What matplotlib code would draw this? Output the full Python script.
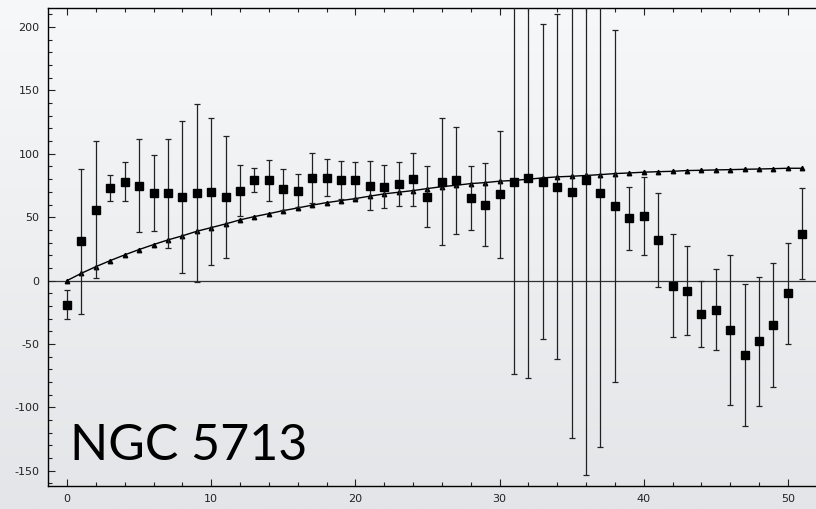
import numpy as np
import matplotlib
matplotlib.use("Agg")
import matplotlib.pyplot as plt
from matplotlib.ticker import MultipleLocator

plt.rcParams["axes.unicode_minus"] = False

# radius index
r = np.arange(52)

# observed velocities with error bars
vel = [-19, 31, 56, 73, 78, 75, 69, 69, 66, 69,
       70, 66, 71, 79, 79, 72, 71, 81, 81, 79,
       79, 75, 74, 76, 80, 66, 78, 79, 65, 60,
       68, 78, 81, 78, 74, 70, 79, 69, 59, 49,
       51, 32, -4, -8, -26, -23, -39, -59, -48, -35,
       -10, 37]
err = [11.5, 57, 54, 10, 15.6, 37, 30, 43, 60, 70,
       58, 48, 20, 9.5, 16, 16, 12.7, 20, 14.6, 15,
       14.6, 19, 17, 17.5, 21, 24, 50, 42, 25, 32.6,
       50, 152, 158, 124, 136, 194, 232, 200, 139, 25,
       30.6, 37, 40.8, 35, 26, 32, 59, 56, 51, 48.6,
       39.7, 36]

# model curve
model = [0, 5.8, 11, 15.8, 20.3, 24.5, 28.4, 32.1, 35.3, 38.9,
         41.8, 44.7, 47.9, 50.5, 52.8, 55.2, 57.3, 59.5, 61.5, 63.1,
         64.7, 66.6, 68.4, 69.7, 71, 72.6, 74.1, 75.2, 76.5, 77.3,
         78.4, 79, 80, 81, 81.8, 82.3, 82.9, 83.6, 84.4, 84.9,
         85.5, 85.9, 86.2, 86.8, 87, 87.3, 87.5, 87.8, 88, 88.3,
         88.6, 88.6]

fig = plt.figure(figsize=(8.16, 5.09), dpi=100)

# soft grey gradient background
bg = fig.add_axes([0, 0, 1, 1], zorder=-10)
grad = np.linspace(0, 1, 256).reshape(-1, 1)
bg.imshow(grad, aspect="auto", cmap=matplotlib.colors.LinearSegmentedColormap.from_list(
    "bg", ["#f7f8f9", "#e3e5e8"]), extent=[0, 1, 0, 1], origin="upper")
bg.axis("off")

ax = fig.add_axes([48 / 816, 23 / 509, 1 - 48 / 816, 478 / 509])
ax.set_facecolor("none")

ax.axhline(0, color="#333333", lw=0.9, zorder=1)
ax.plot(r, model, color="black", lw=1.0, marker="^", ms=3.2, zorder=3)
ax.errorbar(r, vel, yerr=err, fmt="s", color="black", ms=5.5,
            ecolor="#222222", elinewidth=0.9, capsize=2, capthick=0.9, zorder=4)

ax.set_xlim(-1.32, 51.95)
ax.set_ylim(-162, 215)

ax.xaxis.set_major_locator(MultipleLocator(10))
ax.xaxis.set_minor_locator(MultipleLocator(2))
ax.yaxis.set_major_locator(MultipleLocator(50))
ax.yaxis.set_minor_locator(MultipleLocator(10))
ax.tick_params(which="both", direction="in", top=True, right=False,
               colors="#222222", labelsize=8, width=0.8)
ax.tick_params(which="major", length=5, pad=6)
ax.tick_params(which="minor", length=3)
ax.spines["right"].set_visible(False)
for s in ["left", "top", "bottom"]:
    ax.spines[s].set_linewidth(1.0)

ax.text(0.0286, 0.054, "NGC 5713", transform=ax.transAxes, fontsize=36,
        family="Lato", weight="normal", va="baseline", ha="left", color="black")

fig.savefig("out.png", dpi=100)
